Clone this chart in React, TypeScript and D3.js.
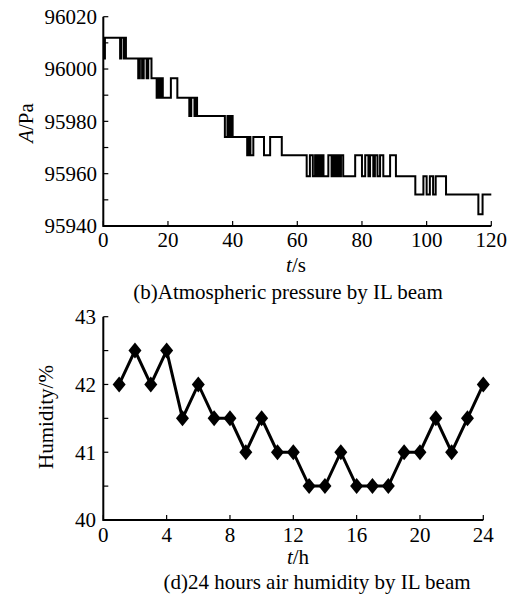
import * as d3 from "d3";

// (b) pressure trace: step changes, value held until the next time
const pressT = [
  0, 0.5, 5.2, 5.6, 6.4, 6.7, 7.0, 10.8, 11.3, 12.0, 12.5, 13.4, 13.9, 14.9,
  16.5, 17.0, 17.4, 17.9, 18.4, 20.9, 22.9, 26.6, 27.2, 28.2, 28.6, 29.0,
  37.6, 38.4, 39.0, 39.5, 40.0, 44.5, 45.0, 45.5, 46.4, 49.7, 51.6, 55.2,
  62.9, 63.9, 64.8, 65.5, 66.0, 66.5, 67.0, 67.5, 68.1, 69.6, 70.6, 71.2,
  71.7, 72.3, 72.9, 73.5, 74.2, 77.9, 80.0, 81.0, 82.0, 82.5, 83.5, 84.0,
  84.8, 85.6, 86.6, 88.7, 90.5, 96.5, 99.0, 100.0, 101.0, 102.0, 102.8,
  106.0, 116.0, 117.3, 120,
];
const pressV = [
  96004, 96012, 96004, 96012, 96004, 96012, 96004, 95996.5, 96004, 95996.5,
  96004, 95996.5, 96004, 95996.5, 95989, 95996.5, 95989, 95996.5, 95989,
  95996.5, 95989, 95982, 95989, 95982, 95989, 95982, 95974, 95982, 95974,
  95982, 95974, 95967, 95974, 95967, 95974, 95967, 95974, 95967, 95959,
  95967, 95959, 95967, 95959, 95967, 95959, 95967, 95959, 95967, 95959,
  95967, 95959, 95967, 95959, 95967, 95959, 95967, 95959, 95967, 95959,
  95967, 95959, 95967, 95959, 95967, 95959, 95967, 95959, 95952, 95959,
  95952, 95959, 95952, 95959, 95952, 95944.5, 95952, 95952,
];

// (d) humidity per hour
const hours = d3.range(1, 25);
const humidity = [
  42, 42.5, 42, 42.5, 41.5, 42, 41.5, 41.5, 41, 41.5, 41, 41, 40.5, 40.5, 41,
  40.5, 40.5, 40.5, 41, 41, 41.5, 41, 41.5, 42,
];

const pressXTicks = [0, 20, 40, 60, 80, 100, 120];
const pressYTicks = d3.range(95940, 96021, 10);
const humXTicks = [0, 4, 8, 12, 16, 20, 24];
const humYTicks = d3.range(40, 43.01, 0.5);

const fs = 21;

export default function App() {
  const x1 = d3.scaleLinear().domain([0, 120]).range([103.3, 491.3]);
  const y1 = d3.scaleLinear().domain([95940, 96020]).range([226, 16.7]);
  const x2 = d3.scaleLinear().domain([0, 24]).range([103.3, 483.3]);
  const y2 = d3.scaleLinear().domain([40, 43]).range([520, 316.7]);

  const stepLine = d3
    .line<number>()
    .x((_, i) => x1(pressT[i]))
    .y((d) => y1(d))
    .curve(d3.curveStepAfter);

  const humLine = d3
    .line<number>()
    .x((_, i) => x2(hours[i]))
    .y((d) => y2(d));

  const diamond = (cx: number, cy: number) =>
    `M${cx},${cy - 8}L${cx + 6.5},${cy}L${cx},${cy + 8}L${cx - 6.5},${cy}Z`;

  return (
    <svg
      width={507}
      height={599}
      style={{
        position: "absolute",
        left: 0,
        top: 0,
        background: "#fff",
        fontFamily: '"Liberation Serif", "Times New Roman", serif',
        fontSize: fs,
      }}
    >
      {/* top chart */}
      <g>
        <path
          d={`M${x1(0)},${y1(96020)}V${y1(95940)}H${x1(120)}`}
          fill="none"
          stroke="#000"
          strokeWidth={2}
        />
        {pressYTicks.map((t) => (
          <line key={t} x1={x1(0)} x2={x1(0) + 5} y1={y1(t)} y2={y1(t)} stroke="#000" strokeWidth={1.2} />
        ))}
        {pressYTicks
          .filter((t) => t % 20 === 0)
          .map((t) => (
            <text key={t} x={97} y={y1(t)} dy="0.35em" textAnchor="end">
              {t}
            </text>
          ))}
        {pressXTicks.map((t) => (
          <g key={t}>
            <line x1={x1(t)} x2={x1(t)} y1={y1(95940)} y2={y1(95940) - 5} stroke="#000" strokeWidth={1.2} />
            <text x={x1(t)} y={247} textAnchor="middle">
              {t}
            </text>
          </g>
        ))}
        <path d={stepLine(pressV) ?? ""} fill="none" stroke="#000" strokeWidth={2} />
        <text transform="translate(33,123) rotate(-90)" textAnchor="middle">
          <tspan fontStyle="italic">A</tspan>/Pa
        </text>
        <text x={296} y={272} textAnchor="middle">
          <tspan fontStyle="italic">t</tspan>/s
        </text>
        <text x={288} y={299} textAnchor="middle">
          (b)Atmospheric pressure by IL beam
        </text>
      </g>

      {/* bottom chart */}
      <g>
        <path
          d={`M${x2(0)},${y2(43)}V${y2(40)}H${x2(24)}`}
          fill="none"
          stroke="#000"
          strokeWidth={2}
        />
        {humYTicks.map((t) => (
          <line key={t} x1={x2(0)} x2={x2(0) + 5} y1={y2(t)} y2={y2(t)} stroke="#000" strokeWidth={1.2} />
        ))}
        {humYTicks
          .filter((t) => Number.isInteger(t))
          .map((t) => (
            <text key={t} x={96} y={y2(t)} dy="0.35em" textAnchor="end">
              {t}
            </text>
          ))}
        {humXTicks.map((t) => (
          <g key={t}>
            <line x1={x2(t)} x2={x2(t)} y1={y2(40)} y2={y2(40) - 5} stroke="#000" strokeWidth={1.2} />
            <text x={x2(t)} y={542} textAnchor="middle">
              {t}
            </text>
          </g>
        ))}
        <path d={humLine(humidity) ?? ""} fill="none" stroke="#000" strokeWidth={3} />
        {humidity.map((d, i) => (
          <path key={i} d={diamond(x2(hours[i]), y2(d))} fill="#000" />
        ))}
        <text transform="translate(53,417) rotate(-90)" textAnchor="middle">
          Humidity/%
        </text>
        <text x={298} y={564} textAnchor="middle">
          <tspan fontStyle="italic">t</tspan>/h
        </text>
        <text x={317} y={589} textAnchor="middle">
          (d)24 hours air humidity by IL beam
        </text>
      </g>
    </svg>
  );
}
